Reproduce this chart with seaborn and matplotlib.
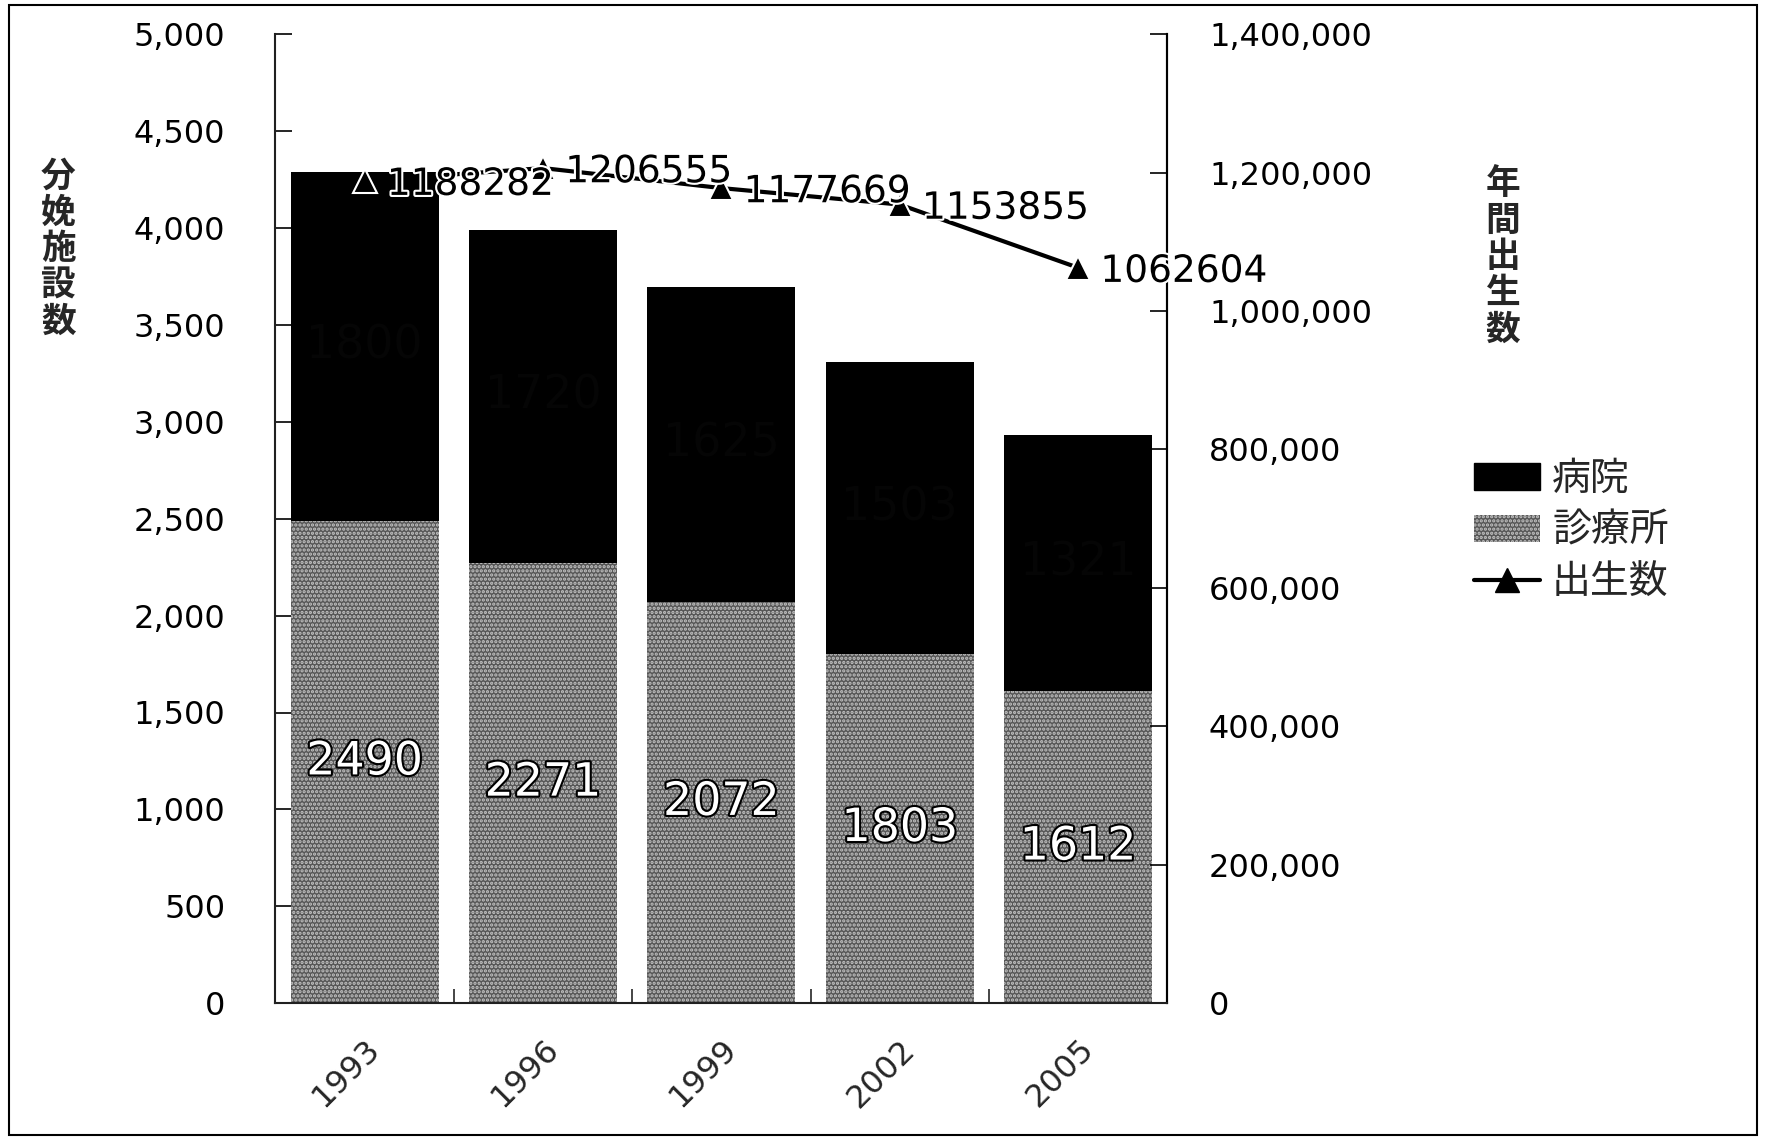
import numpy as np
import pandas as pd
import matplotlib
matplotlib.use("Agg")
import matplotlib.pyplot as plt
import seaborn as sns
from matplotlib.patches import Patch, Rectangle
from matplotlib.lines import Line2D
import matplotlib.patheffects as pe

years = ["1993", "1996", "1999", "2002", "2005"]
hospital = [1800, 1720, 1625, 1503, 1321]
clinic = [2490, 2271, 2072, 1803, 1612]
births = [1188282, 1206555, 1177669, 1153855, 1062604]
left_ticks = [0, 500, 1000, 1500, 2000, 2500, 3000, 3500, 4000, 4500, 5000]
right_ticks = [0, 200000, 400000, 600000, 800000, 1000000, 1200000, 1400000]

sns.set_theme(style="white")
plt.rcParams['font.family'] = ['DejaVu Sans', 'Noto Sans CJK JP']
plt.rcParams['hatch.linewidth'] = 1.6

CLINIC_FACE = "#575757"
CLINIC_HATCH = "#c4c4c4"

df = pd.DataFrame({"year": years, "hospital": hospital, "clinic": clinic, "births": births})
df["total"] = df["hospital"] + df["clinic"]

fig = plt.figure(figsize=(17.66, 11.40), dpi=100)
ax = fig.add_axes([0.156, 0.120, 0.505, 0.850])

sns.barplot(data=df, x="year", y="total", color="black", width=0.83, ax=ax,
            saturation=1, edgecolor="black", linewidth=0)
n = len(ax.patches)
sns.barplot(data=df, x="year", y="clinic", color=CLINIC_FACE, width=0.83, ax=ax,
            saturation=1, linewidth=0)
for p in ax.patches[n:]:
    p.set_hatch("....")
    p.set_edgecolor(CLINIC_HATCH)
    p.set_linewidth(0)

ax.set_ylim(0, 5000)
ax.set_xlim(-0.5, 4.5)
ax.set_yticks(left_ticks)
ax.set_yticklabels([f"{v:,}" for v in left_ticks], fontsize=23)
ax.set_xlabel("")
ax.set_ylabel("")
ax.tick_params(axis="y", direction="in", length=12, width=1.2, pad=36, left=True, colors="black")
ax.tick_params(axis="x", length=0, pad=22)
ax.set_xticks(range(len(years)))
ax.set_xticklabels(years, rotation=45, ha="right", rotation_mode="anchor", fontsize=23)
ax.set_xticks(np.arange(-0.5, 5.0, 1.0), minor=True)
ax.tick_params(axis="x", which="minor", direction="in", length=10, width=1.2, bottom=True)
for s in ["left", "bottom", "right"]:
    ax.spines[s].set_visible(True)
    ax.spines[s].set_color("black")
    ax.spines[s].set_linewidth(1.5)
ax.spines["top"].set_visible(False)

for i in range(len(years)):
    ax.text(i, clinic[i] / 2, str(clinic[i]), ha="center", va="center", fontsize=33,
            color="white", path_effects=[pe.withStroke(linewidth=3, foreground="black")])
    ax.text(i, clinic[i] + hospital[i] / 2, str(hospital[i]), ha="center", va="center",
            fontsize=33, color="#050505")

ax2 = ax.twinx()
sns.lineplot(x=np.arange(len(years)), y=births, ax=ax2, color="black", linewidth=3,
             marker="^", markersize=17, markeredgecolor="white", markeredgewidth=1.5)
ax2.set_ylim(0, 1400000)
ax2.set_yticks(right_ticks)
ax2.set_yticklabels([f"{v:,}" for v in right_ticks], fontsize=23)
ax2.tick_params(axis="y", direction="in", length=12, width=1.2, pad=30, right=True, colors="black")
ax2.spines["top"].set_visible(False)
ax2.spines["right"].set_linewidth(1.5)
ax2.spines["right"].set_color("black")
ax2.set_xlim(-0.5, 4.5)
for i, b in enumerate(births):
    ax2.annotate(str(b), (i, b), xytext=(16, -3), textcoords="offset points",
                 ha="left", va="center", fontsize=27, color="black",
                 path_effects=[pe.withStroke(linewidth=3, foreground="white")])

fig.text(0.033, 0.782, "分\n娩\n施\n設\n数", ha="center", va="center", fontsize=25,
         fontweight="bold", linespacing=1.05, family=['Noto Sans CJK JP', 'DejaVu Sans'])
fig.text(0.851, 0.775, "年\n間\n出\n生\n数", ha="center", va="center", fontsize=25,
         fontweight="bold", linespacing=1.05, family=['Noto Sans CJK JP', 'DejaVu Sans'])

handles = [Patch(facecolor="black", edgecolor="black"),
           Patch(facecolor=CLINIC_FACE, hatch="....", edgecolor=CLINIC_HATCH, linewidth=0),
           Line2D([0], [0], color="black", linewidth=3, marker="^", markersize=17)]
leg = fig.legend(handles, ["病院", "診療所", "出生数"], loc="upper left",
                 bbox_to_anchor=(0.815, 0.628), frameon=False,
                 prop={"family": ['Noto Sans CJK JP', 'DejaVu Sans'], "size": 28},
                 handlelength=1.7, handleheight=0.7, handletextpad=0.3, labelspacing=0.3)

fig.patches.append(Rectangle((0.005, 0.004), 0.99, 0.992, transform=fig.transFigure,
                             fill=False, edgecolor="black", linewidth=1.5))

fig.savefig("out.png", dpi=100)
